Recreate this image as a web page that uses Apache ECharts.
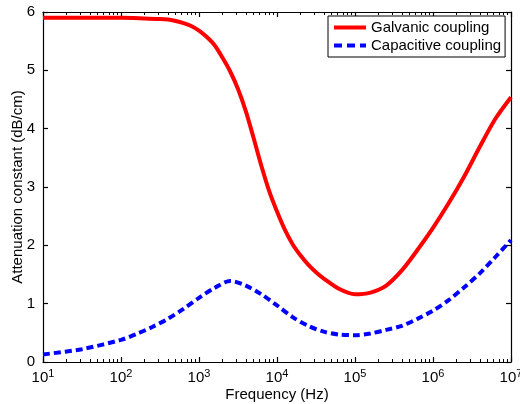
<!DOCTYPE html>
<html>
<head>
<meta charset="utf-8">
<script src="https://cdn.jsdelivr.net/npm/echarts@6.0.0/dist/echarts.min.js"></script>
<style>
  html, body { margin: 0; padding: 0; background: #fff; }
  #chart { width: 520px; height: 404px; }
</style>
</head>
<body>
<div id="chart"></div>
<script>
// 频率 (Hz)，按对数步长取点（弯折段加密）
const freq = [1e1, 3.162e1, 1e2, 1.995e2, 3.162e2, 3.981e2, 5.012e2, 6.31e2, 7.943e2, 1e3,
  1.259e3, 1.585e3, 1.995e3, 2.512e3, 3.162e3, 3.981e3, 5.012e3, 6.31e3, 7.943e3, 1e4,
  1.259e4, 1.585e4, 1.995e4, 2.512e4, 3.162e4, 3.981e4, 6.31e4, 1e5, 1.585e5, 2.512e5,
  3.981e5, 6.31e5, 1e6, 1.585e6, 2.512e6, 3.981e6, 6.31e6, 1e7];
const galvanic = [5.9, 5.9, 5.9, 5.89, 5.88, 5.87, 5.845, 5.81, 5.76, 5.68,
  5.57, 5.43, 5.22, 4.98, 4.68, 4.3, 3.84, 3.36, 2.93, 2.58,
  2.27, 2.02, 1.83, 1.67, 1.54, 1.43, 1.25, 1.16, 1.19, 1.31,
  1.57, 1.92, 2.3, 2.72, 3.18, 3.69, 4.17, 4.54];
const freqC = [1e1, 3.162e1, 1e2, 1.585e2, 2.512e2, 3.981e2, 6.31e2, 1e3, 1.585e3, 2.512e3,
  3.981e3, 6.31e3, 1e4, 1.585e4, 2.512e4, 3.981e4, 6.31e4, 1e5, 1.585e5, 2.512e5,
  3.981e5, 6.31e5, 1e6, 1.585e6, 2.512e6, 3.981e6, 6.31e6, 1e7];
const capacitive = [0.13, 0.22, 0.38, 0.48, 0.6, 0.74, 0.91, 1.1, 1.27, 1.39,
  1.31, 1.16, 0.97, 0.77, 0.62, 0.52, 0.47, 0.46, 0.49, 0.55,
  0.62, 0.74, 0.88, 1.06, 1.28, 1.52, 1.8, 2.09];
const yTicks = [0, 1, 2, 3, 4, 5, 6];
const seriesNames = ['Galvanic coupling', 'Capacitive coupling'];

// 次刻度：每个十倍程内的 2..9
const minorTicks = [];
for (let e = 1; e < 7; e++) {
  for (let k = 2; k <= 9; k++) minorTicks.push(k * Math.pow(10, e));
}

const font = 'Liberation Sans, Arial, Helvetica, sans-serif';
const black = '#000';

function logAxis(pos, show, minor) {
  return {
    type: 'log',
    logBase: 10,
    min: 10,
    max: 1e7,
    position: pos,
    axisLine: { show: !minor, onZero: false, lineStyle: { color: black, width: 1.2 } },
    axisTick: minor
      ? { show: true, inside: true, length: 3, customValues: minorTicks, lineStyle: { color: black, width: 1 } }
      : { show: true, inside: true, length: 5, lineStyle: { color: black, width: 1.2 } },
    axisLabel: show ? {
      show: true,
      margin: 6,
      color: black,
      fontFamily: font,
      formatter: v => '{b|10}{s|' + Math.round(Math.log10(v)) + '}',
      rich: {
        b: { fontSize: 15, fontFamily: font, color: black },
        s: { fontSize: 11, fontFamily: font, color: black, padding: [0, 0, 9, 0] }
      }
    } : { show: false },
    splitLine: { show: false },
    minorTick: { show: false },
    name: show ? 'Frequency (Hz)' : '',
    nameLocation: 'middle',
    nameGap: 25,
    nameMoveOverlap: false,
    nameTextStyle: { fontSize: 15, fontFamily: font, color: black }
  };
}

function valAxis(pos, show) {
  return {
    type: 'value',
    min: yTicks[0],
    max: yTicks[yTicks.length - 1],
    interval: 1,
    position: pos,
    axisLine: { show: true, onZero: false, lineStyle: { color: black, width: 1.2 } },
    axisTick: { show: true, inside: true, length: 5, lineStyle: { color: black, width: 1.2 } },
    axisLabel: { show: show, margin: 8, fontSize: 15, fontFamily: font, color: black },
    splitLine: { show: false },
    name: show ? 'Attenuation constant (dB/cm)' : '',
    nameLocation: 'middle',
    nameGap: 18,
    nameMoveOverlap: false,
    nameTextStyle: { fontSize: 15, fontFamily: font, color: black }
  };
}

const chart = echarts.init(document.getElementById('chart'));
chart.setOption({
  animation: false,
  backgroundColor: '#fff',
  grid: { left: 43, right: 9, top: 12, bottom: 42, outerBoundsMode: 'none', containLabel: false },
  xAxis: [logAxis('bottom', true, false), logAxis('top', false, false),
          logAxis('bottom', false, true), logAxis('top', false, true)],
  yAxis: [valAxis('left', true), valAxis('right', false)],
  legend: {
    orient: 'vertical',
    left: 328,
    top: 16,
    padding: [4, 4, 4, 6],
    itemGap: 3,
    itemWidth: 32,
    itemHeight: 15,
    borderColor: black,
    borderWidth: 1,
    backgroundColor: '#fff',
    textStyle: { fontSize: 15, fontFamily: font, color: black },
    data: [
      { name: seriesNames[0], icon: 'path://M0,0H32V4H0Z' },
      { name: seriesNames[1], icon: 'path://M0,0H8V4H0Z M13,0H21V4H13Z M26,0H32V4H26Z' }
    ]
  },
  series: [
    {
      name: seriesNames[0],
      type: 'line',
      data: freq.map((f, i) => [f, galvanic[i]]),
      smooth: 0.3,
      showSymbol: false,
      symbol: 'none',
      color: '#ff0000',
      lineStyle: { color: '#ff0000', width: 4 }
    },
    {
      name: seriesNames[1],
      type: 'line',
      data: freqC.map((f, i) => [f, capacitive[i]]),
      smooth: 0.3,
      showSymbol: false,
      symbol: 'none',
      color: '#0000ff',
      lineStyle: { color: '#0000ff', width: 4, type: [7, 4] }
    }
  ]
});
</script>
</body>
</html>
